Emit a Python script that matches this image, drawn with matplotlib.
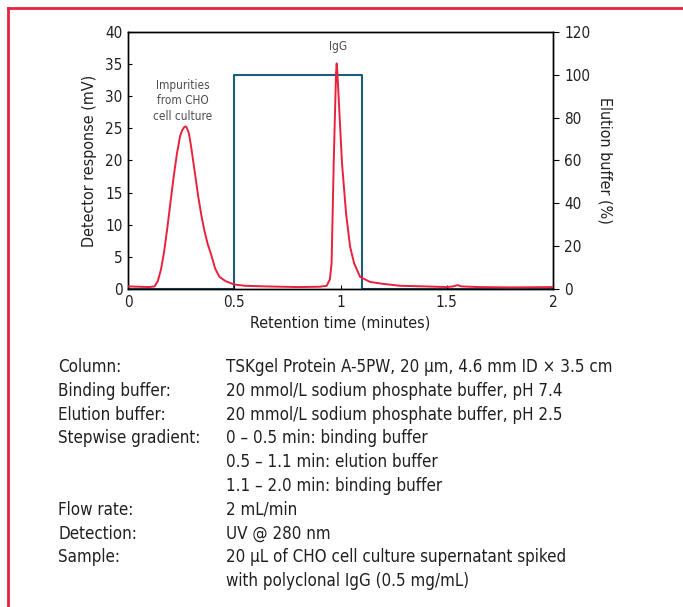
import matplotlib.pyplot as plt
from matplotlib.lines import Line2D

# condensed sans to get near the narrow print face
plt.rcParams['font.family'] = ['DejaVu Sans']
plt.rcParams['font.stretch'] = 'condensed'

# detector trace (minutes, mV)
time = [0.00, 0.05, 0.10, 0.125, 0.14, 0.155, 0.17, 0.185, 0.20, 0.215, 0.23,
        0.245, 0.255, 0.265, 0.27, 0.275, 0.285, 0.29, 0.30, 0.315, 0.33, 0.345,
        0.36, 0.375, 0.39, 0.41, 0.43, 0.46, 0.50, 0.55, 0.65, 0.80, 0.90,
        0.935, 0.95, 0.958, 0.968, 0.976, 0.979, 0.982, 0.985, 0.991, 1.007,
        1.026, 1.045, 1.064, 1.092, 1.139, 1.20, 1.28, 1.40, 1.50, 1.53, 1.55,
        1.57, 1.65, 1.80, 2.00]
response = [0.4, 0.35, 0.3, 0.4, 1.2, 3.0, 5.8, 9.5, 13.5, 17.5, 21.0,
            23.8, 24.7, 25.2, 25.3, 25.2, 24.4, 23.6, 21.5, 18.0, 14.5, 11.5,
            9.0, 7.0, 5.5, 3.2, 1.9, 1.2, 0.7, 0.5, 0.4, 0.3, 0.35,
            0.5, 1.5, 4.0, 19.6, 29.9, 33.5, 35.1, 33.8, 29.9, 19.6,
            11.8, 6.6, 4.0, 1.9, 1.1, 0.8, 0.5, 0.4, 0.3, 0.4, 0.6,
            0.4, 0.3, 0.25, 0.3]

# stepwise gradient (minutes, % elution buffer)
grad_time = [0, 0.5, 0.5, 1.1, 1.1, 2.0]
grad_pct = [0, 0, 100, 100, 0, 0]

param_labels = ['Column:', 'Binding buffer:', 'Elution buffer:', 'Stepwise gradient:',
                '', '', 'Flow rate:', 'Detection:', 'Sample:', '']
param_values = ['TSKgel Protein A-5PW, 20 µm, 4.6 mm ID × 3.5 cm',
                '20 mmol/L sodium phosphate buffer, pH 7.4',
                '20 mmol/L sodium phosphate buffer, pH 2.5',
                '0 – 0.5 min: binding buffer',
                '0.5 – 1.1 min: elution buffer',
                '1.1 – 2.0 min: binding buffer',
                '2 mL/min',
                'UV @ 280 nm',
                '20 µL of CHO cell culture supernatant spiked',
                'with polyclonal IgG (0.5 mg/mL)']

red = '#e8213c'
blue = '#1b5b7e'
grey = '#4d4d4d'
ink = '#231f20'

fig = plt.figure(figsize=(6.83, 6.07), dpi=100)
ax = fig.add_axes([0.1874, 0.5239, 0.6223, 0.4234])
ax2 = ax.twinx()

ax2.plot(grad_time, grad_pct, color=blue, lw=1.5, zorder=1)
ax.plot(time, response, color=red, lw=1.4, zorder=3)
ax.set_zorder(ax2.get_zorder() + 1)
ax.patch.set_visible(False)

ax.set_xlim(0, 2)
ax.set_ylim(0, 40)
ax2.set_ylim(0, 120)
ax.set_xticks([0, 0.5, 1, 1.5, 2])
ax.set_xticklabels(['0', '0.5', '1', '1.5', '2'])
ax.set_yticks(range(0, 41, 5))
ax2.set_yticks(range(0, 121, 20))

ax.tick_params(axis='both', direction='in', length=3, width=0.8, labelsize=11,
               pad=4, labelcolor=ink)
ax2.tick_params(axis='y', direction='out', length=4, width=0.8, labelsize=11,
                pad=4, labelcolor=ink)
for a in (ax, ax2):
    for s in a.spines.values():
        s.set_linewidth(1.0)

ax.set_xlabel('Retention time (minutes)', fontsize=11.5, labelpad=4, color=ink)
ax.set_ylabel('Detector response (mV)', fontsize=11.5, labelpad=6, color=ink)
ax2.set_ylabel('Elution buffer (%)', fontsize=11.5, rotation=270, labelpad=16, color=ink)

ax.text(0.988, 37.7, 'IgG', ha='center', va='center', fontsize=8.5, color=grey)
ax.text(0.259, 29.3, 'Impurities\nfrom CHO\ncell culture', ha='center', va='center',
        fontsize=8.5, color=grey, linespacing=1.25)

# conditions table under the chart
y0 = 1 - 367 / 607
step = 23.8 / 607
for i, (lab, val) in enumerate(zip(param_labels, param_values)):
    y = y0 - i * step
    fig.text(58 / 683, y, lab, ha='left', va='center', fontsize=12.2, color=ink)
    fig.text(226 / 683, y, val, ha='left', va='center', fontsize=12.2, color=ink)

# red frame on left and top
fig.add_artist(Line2D([8 / 683, 8 / 683], [0, 1 - 8 / 607], color=red, lw=2))
fig.add_artist(Line2D([8 / 683, 1], [1 - 8 / 607, 1 - 8 / 607], color=red, lw=2))

plt.savefig('out.png', dpi=100)
plt.close()
